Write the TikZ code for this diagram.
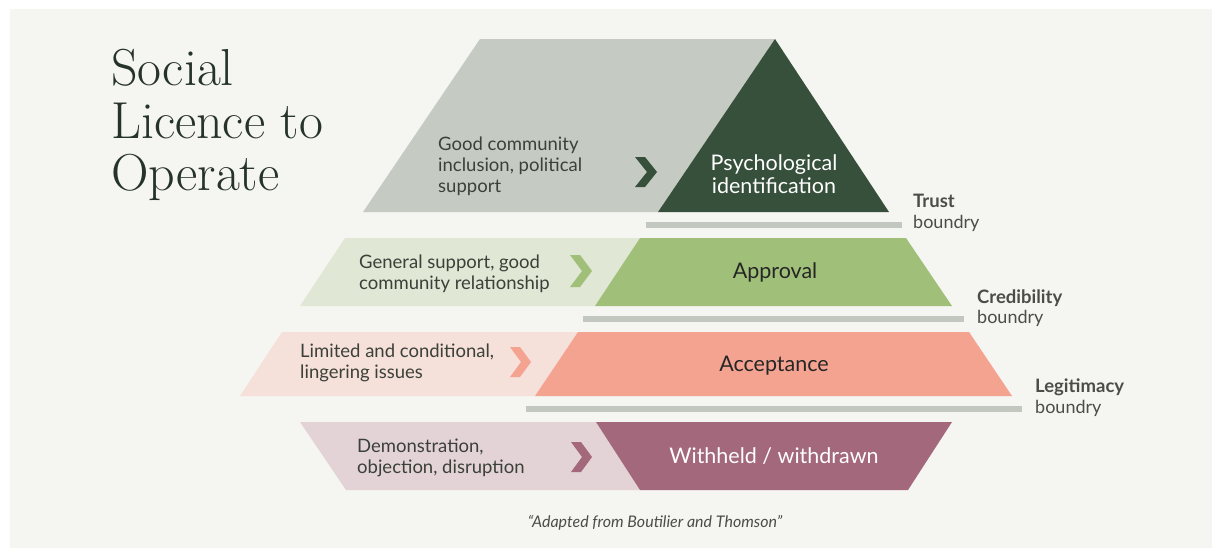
\documentclass[tikz,border=0pt]{standalone}
\usepackage{fontspec}
\setsansfont{Lato}
\definecolor{panel}{HTML}{F5F5F1}
\definecolor{grayfill}{HTML}{C5CAC2}
\definecolor{darkgreen}{HTML}{36503B}
\definecolor{barcol}{HTML}{C2C7BF}
\definecolor{lightgreen}{HTML}{E0E7D5}
\definecolor{midgreen}{HTML}{A0BF78}
\definecolor{lightpink}{HTML}{F5E0DA}
\definecolor{salmon}{HTML}{F4A391}
\definecolor{lightmauve}{HTML}{E3D3D7}
\definecolor{mauve}{HTML}{A3687B}
\definecolor{titlecol}{HTML}{26332A}
\definecolor{textcol}{HTML}{3B4039}
\definecolor{labelcol}{HTML}{4D4D48}
\begin{document}
\begin{tikzpicture}[x=1pt,y=-1pt,
  sidetext/.style={anchor=base west,inner sep=0pt,text=textcol,font=\sffamily\fontsize{18.5}{21}\selectfont},
  midtext/.style={anchor=base,inner sep=0pt,font=\sffamily\fontsize{21.5}{23}\selectfont},
  boldlab/.style={anchor=base west,inner sep=0pt,text=labelcol,font=\sffamily\bfseries\fontsize{18.5}{20}\selectfont},
  lab/.style={anchor=base west,inner sep=0pt,text=labelcol,font=\sffamily\fontsize{18}{20}\selectfont},
  titletext/.style={anchor=base west,inner sep=0pt,text=titlecol,font=\rmfamily\fontsize{52}{53}\selectfont},
  bar/.style={draw=barcol,line width=5.5pt}]
\useasboundingbox (0,0) rectangle (1218,552);
\fill[white] (0,0) rectangle (1218,552);
\fill[panel] (10,9) rectangle (1212,548);
% title
\node[titletext] (t1) at (111,85) {Social};
\node[titletext] (t2) at (111,138) {Licence to};
\node[titletext] (t3) at (111,190) {Operate};
% layer 1
\fill[grayfill] (480,39) -- (775,39) -- (658,212) -- (363,212) -- cycle;
\fill[darkgreen] (775,39) -- (889,212) -- (658,212) -- cycle;
\fill[darkgreen] (635,157) -- (645,157) -- (657,172) -- (645,187) -- (635,187) -- (647,172) -- cycle;
\node[sidetext] (a1) at (438,150) {Good community};
\node[sidetext] (a2) at (438,171) {inclusion, political};
\node[sidetext] (a3) at (438,192) {support};
\node[midtext,text=white] (p1) at (774,170) {Psychological};
\node[midtext,text=white] (p2) at (774,193) {identification};
% layer 2
\fill[lightgreen] (345,238) -- (640,238) -- (595,306) -- (300,306) -- cycle;
\fill[midgreen] (640,238) -- (906,238) -- (952,306) -- (595,306) -- cycle;
\fill[midgreen] (570,255) -- (580,255) -- (592,271) -- (580,287) -- (570,287) -- (582,271) -- cycle;
\node[sidetext] (b1) at (359,268) {General support, good};
\node[sidetext] (b2) at (359,289) {community relationship};
\node[midtext,text=black!85] (ap) at (775,278) {Approval};
% layer 3
\fill[lightpink] (282,332) -- (578,332) -- (535,396) -- (240,396) -- cycle;
\fill[salmon] (578,332) -- (969,332) -- (1012,396) -- (535,396) -- cycle;
\fill[salmon] (510,347) -- (520,347) -- (531,362) -- (520,377) -- (510,377) -- (521,362) -- cycle;
\node[sidetext] (c1) at (300,357) {Limited and conditional,};
\node[sidetext] (c2) at (300,378) {lingering issues};
\node[midtext,text=black!85] (ac) at (774,371) {Acceptance};
% layer 4
\fill[lightmauve] (300,422) -- (596,422) -- (640,490) -- (346,490) -- cycle;
\fill[mauve] (596,422) -- (952,422) -- (908,490) -- (640,490) -- cycle;
\fill[mauve] (571,442) -- (581,442) -- (592,457) -- (581,472) -- (571,472) -- (582,457) -- cycle;
\node[sidetext] (d1) at (357,452) {Demonstration,};
\node[sidetext] (d2) at (357,473) {objection, disruption};
\node[midtext,text=white] (wd) at (774,463) {Withheld / withdrawn};
% boundary bars
\draw[bar] (646,225) -- (902,225);
\draw[bar] (583,319) -- (964,319);
\draw[bar] (526,409) -- (1022,409);
\node[boldlab] (tr) at (913,207) {Trust};
\node[lab] (tr2) at (913,228) {boundry};
\node[boldlab] (cr) at (977,303) {Credibility};
\node[lab] (cr2) at (977,323) {boundry};
\node[boldlab] (lg) at (1035,392) {Legitimacy};
\node[lab] (lg2) at (1035,413) {boundry};
% caption
\node[anchor=base,inner sep=0pt,text=labelcol,font=\sffamily\itshape\fontsize{16}{18}\selectfont] (cap) at (655,527) {“Adapted from Boutilier and Thomson”};
\end{tikzpicture}
\end{document}
